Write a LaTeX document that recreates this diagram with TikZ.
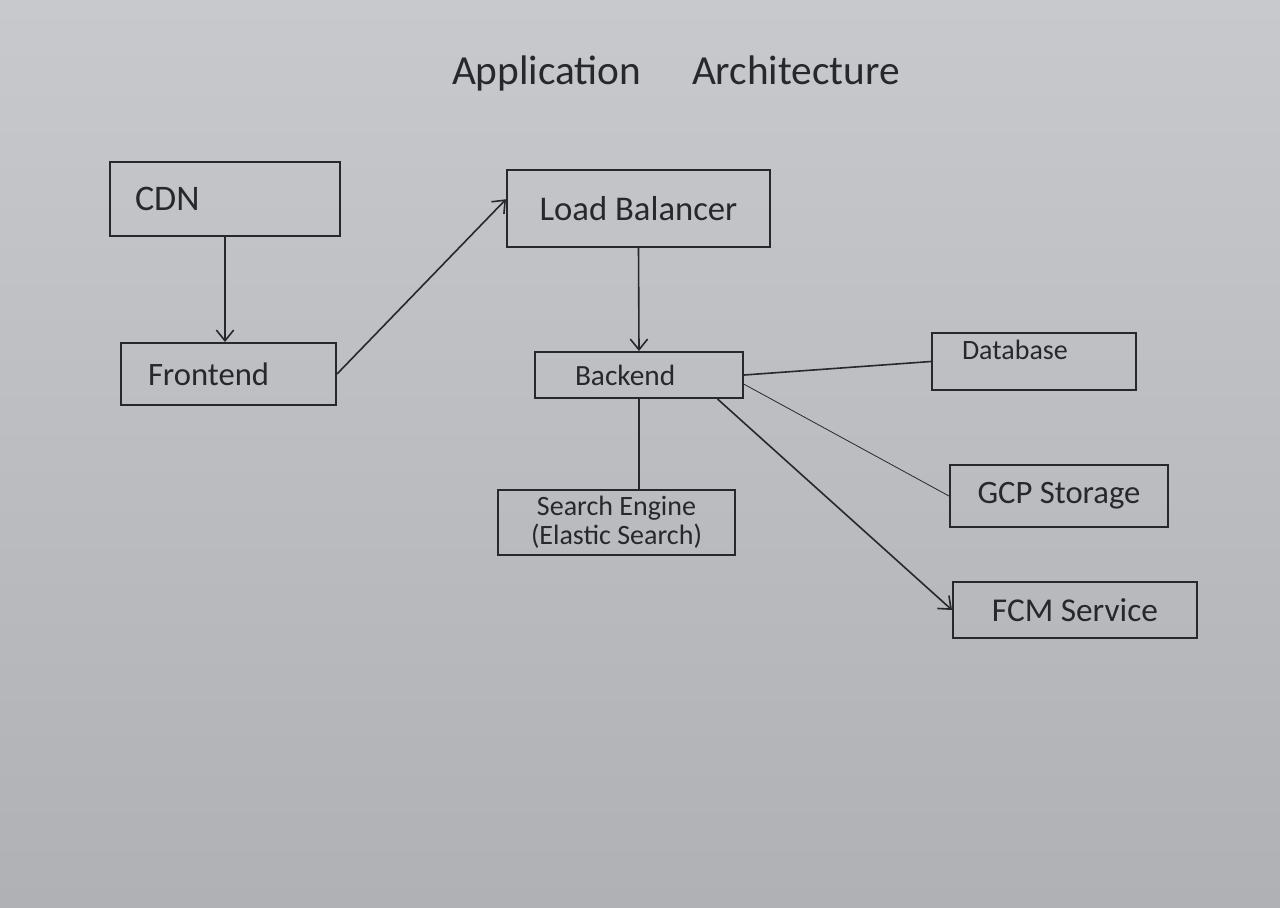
\documentclass[tikz,border=0pt]{standalone}
\usepackage{fontspec}
\setmainfont{Carlito}
\usetikzlibrary{arrows.meta}

\definecolor{paper}{RGB}{199,201,205}
\definecolor{paperdark}{RGB}{176,177,180}
\definecolor{ink}{RGB}{40,40,44}

\tikzset{
  box/.style={draw=ink, line width=1.5pt, inner sep=3pt, text=ink},
  link/.style={draw=ink, line width=1.2pt},
  arr/.style={link, -{Straight Barb[length=8pt,width=13pt]}},
}

\begin{document}
\begin{tikzpicture}[x=0.75pt,y=0.75pt,yscale=-1,xscale=1]
%Paper
\shade [top color=paper, bottom color=paperdark] (0,0) rectangle (1280,907);
\useasboundingbox (0,0) rectangle (1280,907);

% Text Node
\draw (676,73) node [text=ink, font=\fontsize{31}{36}\selectfont] (title) {Application\hspace{1em} Architecture};

%Shape: Rectangle [CDN]
\draw (225,199) node [box, minimum width=172.5pt, minimum height=55.5pt, inner xsep=18.75pt, text width=135pt, align=left, font=\fontsize{27}{30}\selectfont] (cdn) {CDN};
%Shape: Rectangle [Frontend]
\draw (228.5,374) node [box, minimum width=161.25pt, minimum height=46.5pt, inner xsep=20.25pt, text width=120.75pt, align=left, font=\fontsize{24.5}{28}\selectfont] (front) {Frontend};
%Shape: Rectangle [Load Balancer]
\draw (638.5,208.5) node [box, minimum width=197.25pt, minimum height=57.75pt, font=\fontsize{26}{30}\selectfont] (lb) {Load Balancer};
%Shape: Rectangle [Backend]
\draw (639,375) node [box, minimum width=156pt, minimum height=34.5pt, inner xsep=30pt, text width=96pt, align=left, font=\fontsize{22}{26}\selectfont] (backend) {Backend};
%Shape: Rectangle [Search Engine]
\draw (616.5,522.5) node [box, minimum width=177.75pt, minimum height=48.75pt, align=center, font=\fontsize{21}{22}\selectfont] (search) {Search Engine\\(Elastic Search)};
%Shape: Rectangle [Database]
\draw (1034,361.5) node [box, minimum width=153pt, minimum height=42.75pt, inner xsep=22.5pt, text width=108pt, align=left, text depth=18pt, font=\fontsize{21}{24}\selectfont] (db) {Database};
%Shape: Rectangle [GCP Storage]
\draw (1059,496) node [box, minimum width=163.5pt, minimum height=46.5pt, font=\fontsize{24.5}{28}\selectfont] (gcp) {GCP Storage};
%Shape: Rectangle [FCM Service]
\draw (1075,610) node [box, minimum width=183pt, minimum height=42pt, font=\fontsize{25}{28}\selectfont] (fcm) {FCM Service};

%Straight Lines
\draw [arr] (cdn.south) -- (cdn.south |- front.north);
\draw [arr] (front.east) -- (lb.176);
\draw [arr] (lb.south) -- (backend.north);
\draw [link] (backend.south) -- (backend.south |- search.north);
\draw [link] (backend.east) -- (db.west);
\draw [link, line width=0.6pt] (backend.-5) -- (gcp.west);
\draw [arr] (backend.-17.5) -- (fcm.west);

\end{tikzpicture}
\end{document}
